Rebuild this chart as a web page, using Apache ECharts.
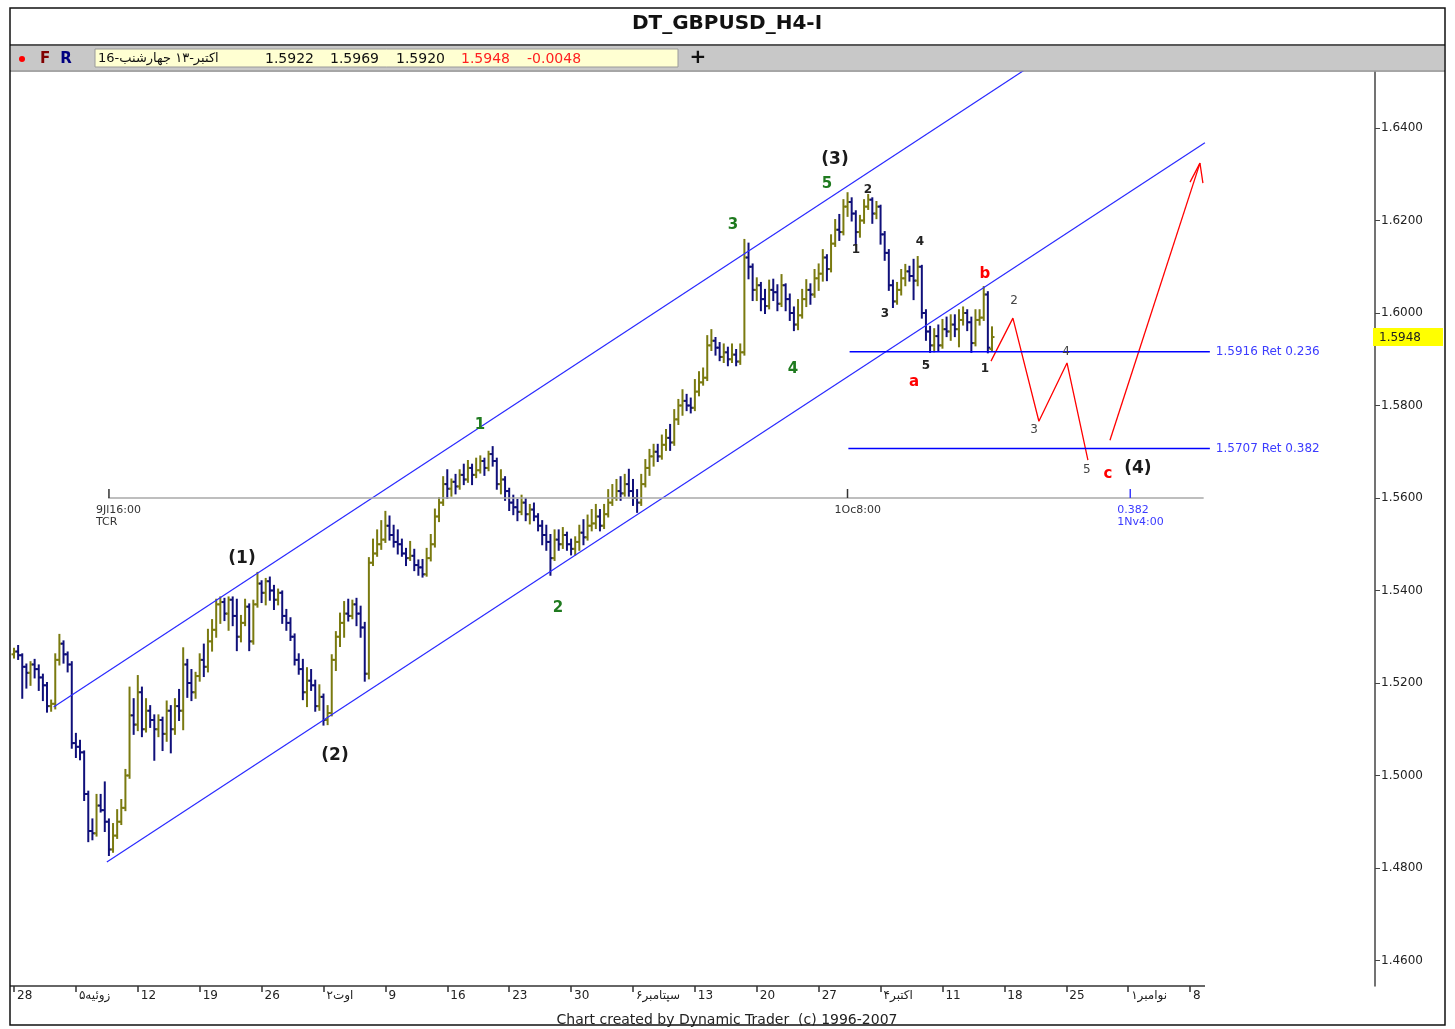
<!DOCTYPE html>
<html>
<head>
<meta charset="utf-8">
<script src="https://cdn.jsdelivr.net/npm/echarts@6.0.0/dist/echarts.min.js"></script>
<style>
  html, body { margin: 0; padding: 0; background: #fff; }
  #chart { width: 1455px; height: 1029px; }
</style>
</head>
<body>
<div id="chart"></div>
<script>
// x = trading day counted from Thu 28 Jun 2007 (5 per week), 3 bars per day
// bars: [open, close, low, high] in pips, 5262 -> 1.5262
const bars = [
  [5262,5268,5255,5274],[5268,5260,5252,5280],[5260,5235,5168,5262],[5235,5222,5190,5240],[5222,5240,5196,5245],
  [5240,5230,5212,5250],[5230,5212,5185,5238],[5212,5195,5163,5218],[5195,5150,5138,5200],[5150,5155,5140,5162],
  [5155,5250,5145,5262],[5250,5285,5240,5304],[5285,5262,5244,5290],[5262,5240,5225,5266],[5240,5070,5060,5245],
  [5070,5062,5040,5090],[5062,5050,5035,5075],[5050,4960,4947,5052],[4960,4880,4858,4965],[4880,4875,4862,4905],
  [4875,4935,4870,4958],[4935,4925,4922,4958],[4925,4900,4880,4985],[4900,4840,4828,4905],[4840,4870,4835,4895],
  [4870,4900,4865,4925],[4900,4930,4895,4947],[4930,5000,4925,5012],[5000,5130,4995,5190],[5130,5110,5090,5165],
  [5110,5180,5098,5215],[5180,5100,5085,5190],[5100,5140,5095,5165],[5140,5120,5105,5150],[5120,5100,5034,5130],
  [5100,5120,5085,5130],[5120,5090,5055,5125],[5090,5140,5075,5160],[5140,5100,5050,5150],[5100,5150,5090,5165],
  [5150,5140,5120,5185],[5140,5240,5100,5275],[5240,5200,5170,5250],[5200,5180,5163,5228],[5180,5215,5168,5222],
  [5215,5250,5205,5262],[5250,5235,5215,5283],[5235,5290,5225,5315],[5290,5315,5270,5336],[5315,5370,5300,5380],
  [5370,5375,5330,5385],[5375,5350,5336,5382],[5350,5380,5315,5385],[5380,5345,5325,5385],[5345,5300,5271,5380],
  [5300,5330,5290,5345],[5330,5365,5325,5380],[5365,5290,5271,5370],[5290,5370,5285,5378],[5370,5415,5365,5438],
  [5415,5395,5375,5420],[5395,5420,5370,5425],[5420,5400,5380,5428],[5400,5380,5360,5410],[5380,5395,5370,5402],
  [5395,5345,5330,5398],[5345,5330,5315,5358],[5330,5300,5293,5340],[5300,5250,5240,5305],[5250,5230,5220,5262],
  [5230,5180,5165,5250],[5180,5205,5150,5232],[5205,5195,5185,5228],[5195,5150,5140,5205],[5150,5170,5142,5195],
  [5170,5120,5110,5175],[5120,5135,5111,5150],[5135,5250,5130,5260],[5250,5300,5228,5310],[5300,5330,5280,5350],
  [5330,5350,5300,5375],[5350,5345,5335,5380],[5345,5370,5340,5378],[5370,5350,5325,5382],[5350,5320,5300,5365],
  [5320,5220,5205,5330],[5220,5460,5210,5470],[5460,5480,5455,5510],[5480,5500,5475,5530],[5500,5510,5490,5550],
  [5510,5540,5505,5570],[5540,5520,5510,5560],[5520,5505,5495,5540],[5505,5500,5480,5530],[5500,5480,5475,5510],
  [5480,5470,5455,5490],[5470,5475,5466,5505],[5475,5455,5444,5488],[5455,5450,5434,5465],[5450,5435,5430,5466],
  [5435,5470,5432,5490],[5470,5500,5465,5520],[5500,5560,5495,5575],[5560,5590,5550,5600],[5590,5630,5585,5645],
  [5630,5620,5600,5660],[5620,5635,5605,5640],[5635,5625,5610,5650],[5625,5650,5620,5660],[5650,5640,5630,5672],
  [5640,5665,5635,5680],[5665,5650,5630,5672],[5650,5660,5645,5685],[5660,5680,5655,5690],[5680,5665,5650,5685],
  [5665,5695,5660,5700],[5695,5680,5670,5710],[5680,5630,5620,5685],[5630,5640,5610,5660],[5640,5615,5596,5645],
  [5615,5590,5574,5620],[5590,5580,5565,5605],[5580,5570,5552,5596],[5570,5590,5565,5605],[5590,5565,5552,5598],
  [5565,5575,5545,5585],[5575,5560,5552,5588],[5560,5540,5530,5565],[5540,5520,5500,5550],[5520,5505,5488,5540],
  [5505,5470,5434,5520],[5470,5510,5466,5530],[5510,5500,5488,5530],[5500,5520,5492,5535],[5520,5500,5488,5525],
  [5500,5490,5478,5510],[5490,5505,5478,5515],[5505,5525,5488,5540],[5525,5515,5500,5552],[5515,5540,5510,5562],
  [5540,5545,5530,5574],[5545,5560,5535,5585],[5560,5540,5530,5574],[5540,5565,5535,5585],[5565,5590,5560,5617],
  [5590,5600,5585,5628],[5600,5615,5596,5639],[5615,5610,5596,5645],[5610,5630,5605,5650],[5630,5615,5605,5661],
  [5615,5600,5585,5639],[5600,5590,5570,5617],[5590,5630,5585,5650],[5630,5665,5625,5682],[5665,5690,5650,5704],
  [5690,5700,5670,5715],[5700,5690,5680,5715],[5690,5715,5685,5735],[5715,5730,5704,5747],[5730,5720,5704,5758],
  [5720,5770,5715,5790],[5770,5800,5760,5812],[5800,5810,5780,5833],[5810,5800,5790,5823],[5800,5795,5785,5815],
  [5795,5830,5790,5855],[5830,5850,5822,5872],[5850,5860,5845,5880],[5860,5930,5855,5950],[5930,5940,5920,5963],
  [5940,5925,5910,5946],[5925,5905,5898,5935],[5905,5915,5894,5932],[5915,5900,5887,5925],[5900,5910,5894,5932],
  [5910,5895,5887,5920],[5895,5915,5890,5932],[5915,6120,5910,6158],[6120,6100,6075,6150],[6100,6050,6028,6105],
  [6050,6060,6028,6075],[6060,6030,6006,6065],[6030,6015,6000,6050],[6015,6050,6010,6070],[6050,6045,6028,6072],
  [6045,6020,6006,6060],[6020,6060,6015,6082],[6060,6030,6006,6062],[6030,6000,5985,6040],[6000,5975,5963,6012],
  [5975,5995,5965,6028],[5995,6030,5990,6050],[6030,6050,6015,6071],[6050,6040,6020,6062],[6040,6075,6035,6093],
  [6075,6085,6050,6105],[6085,6120,6070,6136],[6120,6095,6071,6125],[6095,6150,6090,6168],[6150,6180,6145,6201],
  [6180,6175,6158,6212],[6175,6230,6170,6244],[6230,6240,6210,6259],[6240,6215,6200,6248],[6215,6175,6150,6220],
  [6175,6200,6165,6210],[6200,6230,6195,6244],[6230,6245,6225,6255],[6245,6215,6195,6248],[6215,6230,6205,6240],
  [6230,6170,6150,6232],[6170,6130,6115,6175],[6130,6060,6050,6136],[6060,6025,6013,6070],[6025,6050,6020,6065],
  [6050,6075,6040,6093],[6075,6090,6060,6104],[6090,6080,6070,6100],[6080,6070,6030,6115],[6070,6100,6060,6121],
  [6100,6000,5990,6102],[6000,5960,5942,6006],[5960,5930,5916,5970],[5930,5950,5917,5965],[5950,5930,5920,5973],
  [5930,5965,5925,5985],[5965,5960,5950,5990],[5960,5975,5942,5995],[5975,5965,5950,5995],[5965,5985,5928,6006],
  [5985,6000,5975,6012],[6000,5980,5963,6006],[5980,5935,5916,5990],[5935,5985,5930,6006],[5985,5990,5975,6006],
  [5990,6040,5985,6056],[6040,5925,5915,6045],[5922,5948,5920,5969]
];
const barsPerDay = 3;

const weekTicks = [0, 5, 10, 15, 20, 25, 30, 35, 40, 45, 50, 55, 60, 65, 70, 75, 80, 85, 90, 95];
const weekLabels = ['28', 'زوئیه۵', '12', '19', '26', 'اوت۲', '9', '16', '23', '30',
  'سپتامبر۶', '13', '20', '27', 'اکتبر۴', '11', '18', '25', 'نوامبر۱', '8'];
const priceTicks = [1.46, 1.48, 1.50, 1.52, 1.54, 1.56, 1.58, 1.60, 1.62, 1.64];

const upperChannel = [[3.2, 1.5148], [82.0, 1.6532]];
const lowerChannel = [[7.5, 1.4813], [96.2, 1.6368]];
const retracements = [
  { price: 1.5916, from: 67.5, to: 96.6, text: '1.5916 Ret 0.236' },
  { price: 1.5707, from: 67.4, to: 96.6, text: '1.5707 Ret 0.382' }
];
const timeLine = [[7.6, 1.56], [96.1, 1.56]];
const timeMarks = [
  [7.67, '9Jl16:00', 'TCR', '#333'],
  [67.33, '1Oc8:00', '', '#333'],
  [90.17, '0.382', '1Nv4:00', '#3a3aff']
];
const forecastDown = [[78.92, 1.5896], [80.69, 1.5989], [82.79, 1.5766], [85.06, 1.5892], [86.75, 1.5682]];
const forecastUp = [[88.53, 1.5725], [95.8, 1.6324]];
const arrowHead = [[95.0, 1.6283], [95.8, 1.6324], [96.04, 1.6281]];
const lastPrice = 1.5948;

// [day, price, text, style]
const waveLabels = [
  [18.42, 1.5468, '(1)', 'deg'], [25.93, 1.5044, '(2)', 'deg'],
  [66.32, 1.6331, '(3)', 'deg'], [90.79, 1.5663, '(4)', 'deg'],
  [37.64, 1.5758, '1', 'green'], [43.94, 1.5362, '2', 'green'], [58.08, 1.6190, '3', 'green'],
  [62.92, 1.5879, '4', 'green'], [65.67, 1.6279, '5', 'green'],
  [68.01, 1.6136, '1', 'minor'], [68.98, 1.6266, '2', 'minor'], [70.36, 1.5998, '3', 'minor'],
  [73.18, 1.6154, '4', 'minor'], [73.67, 1.5885, '5', 'minor'], [78.43, 1.5879, '1', 'minor'],
  [72.70, 1.5851, 'a', 'red'], [78.43, 1.6084, 'b', 'red'], [88.37, 1.5652, 'c', 'red'],
  [80.78, 1.6026, '2', 'path'], [82.39, 1.5747, '3', 'path'], [84.98, 1.5916, '4', 'path'], [86.67, 1.5661, '5', 'path']
];

const labelStyles = {
  deg: { font: 'bold 17px "DejaVu Sans"', fill: '#1a1a1a' },
  green: { font: 'bold 15px "DejaVu Sans"', fill: '#1f7a1f' },
  minor: { font: 'bold 12px "DejaVu Sans"', fill: '#222' },
  red: { font: 'bold 15px "DejaVu Sans"', fill: '#ff0000' },
  path: { font: '12px "DejaVu Sans"', fill: '#444' }
};

const X_MIN = -0.323, X_MAX = 109.94, Y_MIN = 1.45448, Y_MAX = 1.65211;
const FONT = '"DejaVu Sans"';

const ohlcData = bars.map((b, i) => [i / barsPerDay, 1 + b[0] / 10000, 1 + b[1] / 10000, 1 + b[2] / 10000, 1 + b[3] / 10000]);

function lineSeries(data, color, width) {
  return { type: 'line', data: data, symbol: 'none', silent: true, z: 3,
    lineStyle: { color: color, width: width } };
}

const series = [
  {
    type: 'custom', name: 'GBPUSD', data: ohlcData, clip: true, z: 2,
    encode: { x: 0, y: [1, 2, 3, 4] },
    renderItem: function (params, api) {
      const x = api.value(0), o = api.value(1), c = api.value(2), l = api.value(3), h = api.value(4);
      const pl = api.coord([x, l]), ph = api.coord([x, h]);
      const po = api.coord([x, o]), pc = api.coord([x, c]);
      const color = c >= o ? '#7a7a10' : '#10107a';
      return { type: 'group', children: [
        { type: 'line', shape: { x1: pl[0], y1: pl[1] + 1, x2: ph[0], y2: ph[1] - 1 }, style: { stroke: color, lineWidth: 2 } },
        { type: 'line', shape: { x1: po[0] - 2.5, y1: po[1], x2: po[0], y2: po[1] }, style: { stroke: color, lineWidth: 2 } },
        { type: 'line', shape: { x1: pc[0], y1: pc[1], x2: pc[0] + 2.5, y2: pc[1] }, style: { stroke: color, lineWidth: 2 } }
      ] };
    }
  },
  lineSeries(upperChannel, '#2a2aff', 1.2),
  lineSeries(lowerChannel, '#2a2aff', 1.2),
  lineSeries(timeLine, '#a8a8a8', 1.5),
  lineSeries(forecastDown, '#ff0000', 1.3),
  lineSeries(forecastUp, '#ff0000', 1.3),
  lineSeries(arrowHead, '#ff0000', 1.3)
];

retracements.forEach(function (r) {
  const s = lineSeries([[r.from, r.price], [r.to, r.price]], '#0000ff', 1.5);
  s.endLabel = { show: true, formatter: r.text, color: '#3c3cff', fontSize: 12, fontFamily: 'DejaVu Sans', distance: 6 };
  series.push(s);
});

series.push({
  type: 'custom', data: timeMarks.map(m => [m[0], 1.56]), clip: false, z: 4,
  renderItem: function (params, api) {
    const m = timeMarks[params.dataIndex];
    const p = api.coord([api.value(0), api.value(1)]);
    return { type: 'group', children: [
      { type: 'line', shape: { x1: p[0], y1: p[1] - 9, x2: p[0], y2: p[1] }, style: { stroke: m[3], lineWidth: 1.5 } },
      { type: 'text', x: p[0] - 13, y: p[1] + 12, style: { text: m[1], fill: m[3], font: '11px ' + FONT, align: 'left', verticalAlign: 'middle' } },
      { type: 'text', x: p[0] - 13, y: p[1] + 24, style: { text: m[2], fill: m[3], font: '11px ' + FONT, align: 'left', verticalAlign: 'middle' } }
    ] };
  }
});

series.push({
  type: 'custom', data: waveLabels.map(w => [w[0], w[1]]), clip: false, z: 6,
  renderItem: function (params, api) {
    const w = waveLabels[params.dataIndex];
    const p = api.coord([api.value(0), api.value(1)]);
    const st = labelStyles[w[3]];
    return { type: 'text', x: p[0], y: p[1],
      style: { text: w[2], fill: st.fill, font: st.font, align: 'center', verticalAlign: 'middle' } };
  }
});

series.push({
  type: 'custom', data: [[X_MAX, lastPrice]], clip: false, z: 7,
  renderItem: function (params, api) {
    const p = api.coord([api.value(0), api.value(1)]);
    return { type: 'group', children: [
      { type: 'rect', shape: { x: p[0] - 2, y: p[1] - 9, width: 70, height: 18 }, style: { fill: '#ffff00' } },
      { type: 'text', x: p[0] + 4, y: p[1] + 1, style: { text: lastPrice.toFixed(4), fill: '#222', font: '12px ' + FONT, align: 'left', verticalAlign: 'middle' } }
    ] };
  }
});

function txt(x, y, text, font, fill, align) {
  return { type: 'text', x: x, y: y, silent: true, z: 20,
    style: { text: text, font: font, fill: fill, align: align || 'left', verticalAlign: 'middle' } };
}

const graphic = [
  { type: 'rect', z: 1, silent: true, shape: { x: 11, y: 46, width: 1433, height: 24 }, style: { fill: '#c8c8c8' } },
  { type: 'line', z: 2, silent: true, shape: { x1: 10, y1: 45, x2: 1445, y2: 45 }, style: { stroke: '#222', lineWidth: 1.5 } },
  { type: 'line', z: 2, silent: true, shape: { x1: 10, y1: 71, x2: 1445, y2: 71 }, style: { stroke: '#888', lineWidth: 1.5 } },
  { type: 'rect', z: 2, silent: true, shape: { x: 95, y: 49, width: 583, height: 18 }, style: { fill: '#ffffd2', stroke: '#9a9a9a' } },
  { type: 'circle', z: 3, silent: true, shape: { cx: 22, cy: 59, r: 3 }, style: { fill: '#ff0000' } },
  txt(45, 59, 'F', 'bold 15px ' + FONT, '#800000', 'center'),
  txt(66, 59, 'R', 'bold 15px ' + FONT, '#000080', 'center'),
  txt(98, 59, 'اکتبر-۱۳ جهارشنب-16', '13px ' + FONT, '#111'),
  txt(265, 59, '1.5922', '14px ' + FONT, '#111'),
  txt(330, 59, '1.5969', '14px ' + FONT, '#111'),
  txt(396, 59, '1.5920', '14px ' + FONT, '#111'),
  txt(461, 59, '1.5948', '14px ' + FONT, '#ff2020'),
  txt(527, 59, '-0.0048', '14px ' + FONT, '#ff2020'),
  txt(698, 58, '+', 'bold 20px ' + FONT, '#111', 'center'),
  txt(727, 24, 'DT_GBPUSD_H4-I', 'bold 20px ' + FONT, '#111', 'center'),
  txt(727, 1020, 'Chart created by Dynamic Trader  (c) 1996-2007', '14px ' + FONT, '#222', 'center'),
  { type: 'line', z: 2, silent: true, shape: { x1: 10, y1: 986, x2: 1205, y2: 986 }, style: { stroke: '#333', lineWidth: 1.5 } },
  { type: 'rect', z: 30, silent: true, shape: { x: 10, y: 8, width: 1435, height: 1017 }, style: { fill: 'none', stroke: '#111', lineWidth: 1.5 } }
];

const chart = echarts.init(document.getElementById('chart'));
chart.setOption({
  animation: false,
  backgroundColor: '#fff',
  grid: { left: 10, top: 72, width: 1365, height: 914 },
  xAxis: {
    type: 'value', min: X_MIN, max: X_MAX,
    axisLine: { show: false, onZero: false },
    splitLine: { show: false },
    axisTick: { show: true, customValues: weekTicks, length: 6, lineStyle: { color: '#333', width: 1.5 } },
    axisLabel: {
      customValues: weekTicks,
      formatter: v => weekLabels[weekTicks.indexOf(Math.round(v))],
      align: 'left', padding: [0, 0, 0, 3], margin: 4,
      color: '#222', fontSize: 12, fontFamily: 'DejaVu Sans'
    }
  },
  yAxis: {
    type: 'value', position: 'right', min: Y_MIN, max: Y_MAX, scale: true,
    splitLine: { show: false },
    axisLine: { show: true, onZero: false, lineStyle: { color: '#444', width: 1.5 } },
    axisTick: { show: true, customValues: priceTicks, length: 5, lineStyle: { color: '#444' } },
    axisLabel: {
      customValues: priceTicks, formatter: v => v.toFixed(4), margin: 6,
      color: '#222', fontSize: 12, fontFamily: 'DejaVu Sans'
    }
  },
  series: series,
  graphic: graphic
});
</script>
</body>
</html>
